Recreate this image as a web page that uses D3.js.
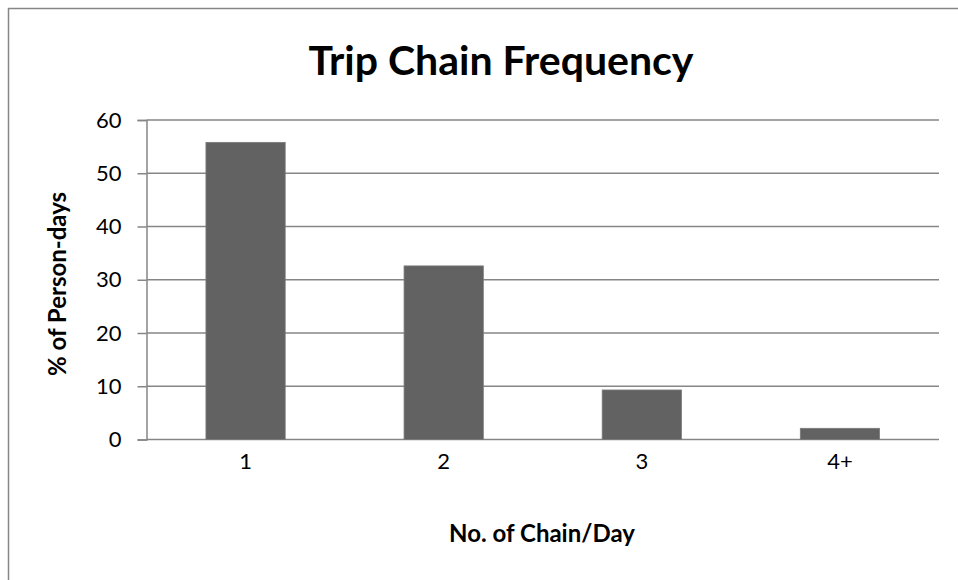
<!DOCTYPE html>
<html>
<head>
<meta charset="utf-8">
<script src="https://cdn.jsdelivr.net/npm/d3@7"></script>
<style>
  body { margin: 0; background: #fff; }
  svg text { font-family: Lato, "Open Sans", sans-serif; fill: #000; }
</style>
</head>
<body>
<div id="chart"></div>
<script>
var categories = ["1", "2", "3", "4+"];
var values = [55.8, 32.6, 9.3, 2.1];
var yTicks = [0, 10, 20, 30, 40, 50, 60];

var w = 958;
var h = 580;
var plotLeft = 146.5, plotRight = 939, plotTop = 120, plotBottom = 439.5;

var svg = d3.select("#chart").append("svg")
    .attr("width", w)
    .attr("height", h);

// outer chart border (runs off the right and bottom edge)
svg.append("rect")
    .attr("x", 8.5).attr("y", 8.5)
    .attr("width", 1000).attr("height", 1000)
    .attr("fill", "none")
    .attr("stroke", "#868686")
    .attr("stroke-width", 1.5);

var x = d3.scaleBand()
    .domain(categories)
    .range([plotLeft, plotRight])
    .paddingInner(0.6)
    .paddingOuter(0.3);

var y = d3.scaleLinear()
    .domain([0, 60])
    .range([plotBottom, plotTop]);

// gridlines
svg.append("g")
    .selectAll("line")
    .data(yTicks.filter(d => d > 0))
    .enter().append("line")
    .attr("x1", plotLeft).attr("x2", plotRight)
    .attr("y1", d => y(d)).attr("y2", d => y(d))
    .attr("stroke", "#868686")
    .attr("stroke-width", 1.5);

// y axis
var yAxis = d3.axisLeft(y).tickValues(yTicks).tickSize(9).tickPadding(16);
var gy = svg.append("g")
    .attr("transform", `translate(${plotLeft},0)`)
    .call(yAxis);
gy.select(".domain").attr("stroke", "#868686").attr("stroke-width", 1.5);
gy.selectAll(".tick line").attr("stroke", "#868686").attr("stroke-width", 1.5);
gy.selectAll(".tick text").style("font-size", "22px").attr("fill", "#000");

// x axis
var xAxis = d3.axisBottom(x).tickSize(0).tickPadding(14);
var gx = svg.append("g")
    .attr("transform", `translate(0,${plotBottom})`)
    .call(xAxis);
gx.select(".domain").attr("stroke", "#868686").attr("stroke-width", 1.5)
    .attr("d", `M${plotLeft},0H${plotRight}`);
gx.selectAll(".tick text").style("font-size", "22px").attr("fill", "#000");

// bars
svg.selectAll(".bar")
    .data(values)
    .enter().append("rect")
    .attr("class", "bar")
    .attr("x", (d, i) => x(categories[i]))
    .attr("y", d => y(d))
    .attr("width", x.bandwidth())
    .attr("height", d => plotBottom - y(d))
    .attr("fill", "#626262")
    .attr("stroke", "#7a7a7a")
    .attr("stroke-width", 0.8);

// title
svg.append("text")
    .attr("x", 501).attr("y", 75)
    .attr("text-anchor", "middle")
    .style("font-size", "41px")
    .style("font-weight", "bold")
    .text("Trip Chain Frequency");

// axis titles
svg.append("text")
    .attr("x", 542).attr("y", 542)
    .attr("text-anchor", "middle")
    .style("font-size", "24px")
    .style("font-weight", "bold")
    .text("No. of Chain/Day");

svg.append("text")
    .attr("transform", "translate(66,284) rotate(-90)")
    .attr("text-anchor", "middle")
    .style("font-size", "24px")
    .style("font-weight", "bold")
    .text("% of Person-days");
</script>
</body>
</html>
